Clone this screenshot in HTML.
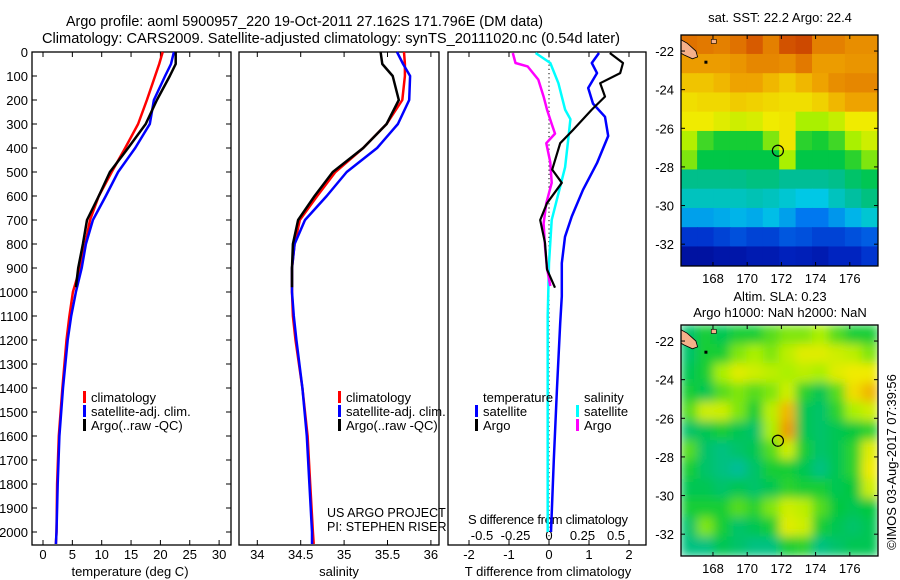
<!DOCTYPE html>
<html><head><meta charset="utf-8">
<style>
html,body{margin:0;padding:0;background:#fff;}
svg{display:block;font-family:"Liberation Sans",Arial,sans-serif;}
text{fill:#000;font-size:13px;}
</style></head>
<body>
<svg id="chart" width="900" height="580" viewBox="0 0 900 580" xmlns="http://www.w3.org/2000/svg">
<defs>
<filter id="blur" filterUnits="userSpaceOnUse" x="660" y="300" width="240" height="280"><feGaussianBlur stdDeviation="5"/></filter>
</defs>
<text x="66" y="26" textLength="477" lengthAdjust="spacingAndGlyphs" style="font-size:14.5px">Argo profile: aoml 5900957_220 19-Oct-2011 27.162S 171.796E (DM data)</text>
<text x="42" y="43" textLength="578" lengthAdjust="spacingAndGlyphs" style="font-size:14.5px">Climatology: CARS2009. Satellite-adjusted climatology: synTS_20111020.nc (0.54d later)</text>
<g id="plots"></g>
</svg>
<script>
// ---- profile data ----
const depthT = [0,50,100,200,300,400,500,600,700,800,900,1000,1100,1200,1400,1600,1800,2000,2050];
const climT  = [20.4,19.8,19.1,17.7,16.2,14.0,11.7,9.5,8.0,7.2,6.3,5.1,4.5,4.0,3.3,2.7,2.4,2.3,2.2];
const satT   = [22.3,21.8,20.8,18.9,18.2,15.7,12.8,10.7,8.5,7.3,6.6,5.6,4.8,4.2,3.4,2.8,2.5,2.3,2.2];
const depthArgo = [0,50,100,200,300,400,500,600,700,800,900,980];
const argoT  = [22.6,22.6,21.6,19.4,17.5,14.5,11.4,9.5,7.5,6.8,6.0,5.6];
const climS  = [35.69,35.70,35.70,35.67,35.49,35.22,34.90,34.69,34.49,34.43,34.40,34.40,34.41,34.44,34.52,34.58,34.61,34.64,34.65];
const satS   = [35.61,35.68,35.76,35.75,35.62,35.38,35.03,34.80,34.55,34.43,34.40,34.40,34.42,34.45,34.52,34.57,34.60,34.63,34.63];
const argoS  = [35.42,35.44,35.56,35.63,35.49,35.22,34.87,34.66,34.47,34.41,34.40,34.40];
// differences
const dDepthArgo = [4,46,88,130,186,240,325,380,490,545,630,700,795,906,982];
const dTargo = [1.52,1.85,1.78,1.28,1.4,1.07,0.6,0.28,0.08,0.32,-0.05,-0.22,-0.1,-0.05,0.15];
const dDepthSat = [4,46,88,150,215,270,350,463,574,685,770,880,1018,1130,1400,1700,2000];
const dTsat = [1.25,1.07,1.2,0.98,1.1,1.4,1.48,1.2,0.85,0.57,0.4,0.32,0.32,0.28,0.2,0.12,0.05];
const dSDepthArgo = [4,46,60,115,186,240,300,340,380,460,545,630,715,810,900,975];
const dSargo = [-0.27,-0.25,-0.16,-0.08,-0.04,-0.015,0.02,0.045,-0.02,0.01,0.02,-0.02,-0.04,-0.03,-0.015,0.01];
const dSDepthSat = [4,46,130,240,280,380,480,590,700,880,1100,1400,1700,2000];
const dSsat = [-0.1,0.01,0.07,0.12,0.16,0.14,0.12,0.07,0.02,0.0,-0.01,-0.01,-0.01,-0.01];
const depthTicks = [0,100,200,300,400,500,600,700,800,900,1000,1100,1200,1300,1400,1500,1600,1700,1800,1900,2000];
const tTicks = [0,5,10,15,20,25,30];
const sTicks = [34,34.5,35,35.5,36];
const sTickLabels = ["34","34.5","35","35.5","36"];
const dTTicks = [-2,-1,0,1,2];
const dSTicks = [-0.5,-0.25,0,0.25,0.5];
const dSTickLabels = ["-0.5","-0.25","0","0.25","0.5"];
// ---- map data (rows north->south, cols west->east), normalized colour index 0..1 ----
const sstGrid = [
[.88,.87,.86,.88,.91,.86,.92,.93,.86,.86,.84,.84],
[.82,.82,.82,.83,.85,.85,.84,.87,.82,.82,.83,.83],
[.76,.76,.78,.81,.81,.78,.75,.78,.81,.84,.85,.85],
[.72,.73,.73,.75,.74,.73,.72,.72,.74,.78,.81,.81],
[.7,.7,.68,.66,.67,.7,.71,.62,.62,.65,.7,.7],
[.63,.57,.55,.55,.55,.6,.71,.56,.55,.57,.62,.66],
[.6,.53,.53,.53,.53,.53,.62,.53,.53,.53,.56,.6],
[.47,.47,.47,.47,.48,.48,.46,.46,.46,.47,.5,.52],
[.42,.42,.42,.42,.43,.42,.4,.38,.38,.42,.45,.48],
[.34,.34,.35,.36,.35,.37,.34,.3,.3,.33,.36,.4],
[.2,.2,.22,.24,.22,.22,.25,.24,.22,.22,.24,.26],
[.08,.08,.1,.1,.12,.12,.15,.14,.12,.16,.16,.2]];
const slaGrid = [
[.5,.55,.52,.55,.55,.58,.6,.6,.62,.58,.55,.55],
[.5,.55,.55,.6,.62,.6,.64,.68,.68,.66,.64,.6],
[.52,.55,.62,.68,.66,.64,.62,.64,.62,.68,.7,.7],
[.55,.52,.58,.6,.58,.6,.66,.56,.52,.58,.72,.78],
[.58,.66,.66,.6,.55,.64,.78,.52,.5,.56,.62,.66],
[.5,.52,.55,.52,.5,.62,.82,.52,.5,.52,.54,.56],
[.58,.5,.48,.5,.52,.58,.66,.55,.5,.52,.56,.68],
[.55,.5,.48,.46,.5,.55,.55,.52,.48,.52,.56,.7],
[.52,.52,.5,.52,.5,.52,.56,.55,.55,.52,.54,.66],
[.55,.55,.55,.58,.56,.6,.66,.64,.58,.54,.52,.54],
[.5,.6,.55,.5,.52,.55,.68,.66,.55,.52,.5,.52],
[.48,.48,.52,.5,.48,.48,.55,.56,.48,.5,.52,.52]];
const lonTicks = [168,170,172,174,176];
const latTicks = [-22,-24,-26,-28,-30,-32];
const argoLon = 171.796, argoLat = -27.162;

const NS="http://www.w3.org/2000/svg";
const root=document.getElementById('plots');
function el(tag,attrs,parent){const e=document.createElementNS(NS,tag);for(const k in attrs)e.setAttribute(k,attrs[k]);(parent||root).appendChild(e);return e;}
function txt(s,x,y,anchor,parent){const t=el('text',{x:x,y:y,'text-anchor':anchor||'start'},parent);t.textContent=s;return t;}

const yTop=52, yBot=545;
const yD = d => 52 + d*0.24;
const xT = v => 43 + v*5.87;
const xS = v => 257.3 + (v-34)*86.8;
const xDT = v => 549 + v*40;
const xDS = v => 549 + v*134;

const panels=[[32,231,'temperature-panel'],[239,439,'salinity-panel'],[448,646,'difference-panel']];
panels.forEach(p=>{
  const r=el('rect',{x:p[0],y:yTop,width:p[1]-p[0],height:yBot-yTop,fill:'none',stroke:'#000','stroke-width':1.3});
  
  
});
depthTicks.forEach(d=>{
  el('line',{x1:32,x2:37,y1:yD(d),y2:yD(d),stroke:'#000'});
  el('line',{x1:226,x2:231,y1:yD(d),y2:yD(d),stroke:'#000'});
  const t=txt(String(d),28,yD(d)+5,'end');
  
  
});
function xTicks(ticks,labels,fx,ly){
  ticks.forEach((v,i)=>{
    const x=fx(v);
    el('line',{x1:x,x2:x,y1:yBot,y2:yBot-5,stroke:'#000'});
    el('line',{x1:x,x2:x,y1:yTop,y2:yTop+5,stroke:'#000'});
    const t=txt(labels[i],x,ly,'middle');
    
    
  });
}
xTicks(tTicks,tTicks.map(String),xT,559);
xTicks(sTicks,sTickLabels,xS,559);
xTicks(dTTicks,dTTicks.map(String),xDT,559);
dSTicks.forEach((v,i)=>{const t=txt(dSTickLabels[i],xDS(v),540,'middle');
  
  });
[['temperature (deg C)',130,'temperature-axis-title'],['salinity',339,'salinity-axis-title'],['T difference from climatology',548,'t-diff-axis-title']].forEach(a=>{
  const t=txt(a[0],a[1],576,'middle');
  
  
});
{const t=txt('S difference from climatology',468,524,'start');
t.setAttribute('textLength','160');

}

el('line',{x1:xDT(0),x2:xDT(0),y1:yTop,y2:yBot,stroke:'#000','stroke-dasharray':'1.2 3'});

function series(depths,vals,fx,color,w,name){
  const pts=depths.map((d,i)=>fx(vals[i]).toFixed(1)+','+yD(d).toFixed(1)).join(' ');
  const p=el('polyline',{points:pts,fill:'none',stroke:color,'stroke-width':w,'stroke-linejoin':'round'});
  
  
}
series(depthT,climT,xT,'#ff0000',2.5,'temperature-climatology-line');
series(depthT,satT,xT,'#0000ff',2.5,'temperature-satellite-line');
series(depthArgo,argoT,xT,'#000000',2.5,'temperature-argo-line');
series(depthT,climS,xS,'#ff0000',2.5,'salinity-climatology-line');
series(depthT,satS,xS,'#0000ff',2.5,'salinity-satellite-line');
series(depthArgo,argoS,xS,'#000000',2.5,'salinity-argo-line');
series(dSDepthSat,dSsat,xDS,'#00ffff',2.5,'s-diff-satellite-line');
series(dDepthSat,dTsat,xDT,'#0000ff',2.5,'t-diff-satellite-line');
series(dSDepthArgo,dSargo,xDS,'#ff00ff',2.5,'s-diff-argo-line');
series(dDepthArgo,dTargo,xDT,'#000000',2.2,'t-diff-argo-line');

function legItem(x,y,color,label){
  const r=el('rect',{x:x,y:y-11,width:3,height:12,fill:color});
  
  
  const t=txt(label,x+8,y);
  
  
}
[['#ff0000','climatology'],['#0000ff','satellite-adj. clim.'],['#000','Argo(..raw -QC)']].forEach((l,i)=>legItem(83,402+i*14,l[0],l[1]));
[['#ff0000','climatology'],['#0000ff','satellite-adj. clim.'],['#000','Argo(..raw -QC)']].forEach((l,i)=>legItem(338,402+i*14,l[0],l[1]));
{const t=txt('temperature',483,402);}
{const t=txt('salinity',584,402);}
legItem(475,416,'#0000ff','satellite');
legItem(475,430,'#000','Argo');
legItem(576,416,'#00ffff','satellite');
legItem(576,430,'#ff00ff','Argo');
{const t=txt('US ARGO PROJECT',327,517);t.setAttribute('style','font-size:12.5px');}
{const t=txt('PI: STEPHEN RISER',327,531);t.setAttribute('style','font-size:12.5px');}

// ---- maps ----
const stops=[[0,[0,0,130]],[0.18,[0,40,200]],[0.3,[0,120,240]],[0.38,[0,200,230]],[0.46,[0,190,150]],[0.54,[0,200,60]],[0.62,[170,240,0]],[0.7,[240,235,0]],[0.8,[240,170,0]],[0.9,[220,100,0]],[1,[170,10,0]]];
function cmap(v){
  for(let i=1;i<stops.length;i++){if(v<=stops[i][0]){const a=stops[i-1],b=stops[i];const f=(v-a[0])/(b[0]-a[0]);
    return 'rgb('+a[1].map((c,k)=>Math.round(c+(b[1][k]-c)*f)).join(',')+')';}}
  return 'rgb(170,10,0)';
}
const lon0=166.13, lon1=177.65, lat0=-21.17, lat1=-33.13;
function drawMap(top,grid,name,blur){
  const L=681,R=878,B=top+231;
  const mx=lon=>L+(lon-lon0)/(lon1-lon0)*(R-L);
  const my=lat=>top+(lat-lat0)/(lat1-lat0)*(B-top);
  const g=el('g',{});
  
  
  const clip=el('clipPath',{id:'clip'+top},g);
  el('rect',{x:L,y:top,width:R-L,height:B-top},clip);
  const inner=el('g',{'clip-path':'url(#clip'+top+')'},g);
  const cg=el('g',blur?{filter:'url(#blur)'}:{},inner);
  const nr=grid.length,nc=grid[0].length;
  const cw=(lon1-lon0)/nc, ch=(lat0-lat1)/nr;
  grid.forEach((row,r)=>row.forEach((v,c)=>{
    const x=mx(lon0+c*cw), y=my(lat0-r*ch);
    const cell=el('rect',{x:x-0.3,y:y-0.3,width:mx(lon0+(c+1)*cw)-x+0.8,height:my(lat0-(r+1)*ch)-y+0.8,fill:cmap(v)},cg);
    
    
  }));
  el('polygon',{points:[[166.1,-21.4],[166.5,-21.6],[167.0,-22.0],[167.1,-22.3],[166.8,-22.4],[166.3,-22.2],[166.1,-22.1]].map(p=>mx(p[0])+','+my(p[1])).join(' '),fill:'#f5b08a',stroke:'#000','stroke-width':0.8},inner);
  el('rect',{x:mx(167.5),y:my(-22.5),width:3,height:3,fill:'#000'},inner);
  el('rect',{x:mx(167.9),y:my(-21.4),width:5,height:4,fill:'#f5b08a',stroke:'#000','stroke-width':0.6},inner);
  el('rect',{x:L,y:top,width:R-L,height:B-top,fill:'none',stroke:'#000','stroke-width':1.3},g);
  lonTicks.forEach(v=>{const x=mx(v);
    el('line',{x1:x,x2:x,y1:B,y2:B-4,stroke:'#000'},g);
    el('line',{x1:x,x2:x,y1:top,y2:top+4,stroke:'#000'},g);
    const t=txt(String(v),x,B+17,'middle',g);
    
    });
  latTicks.forEach(v=>{const y=my(v);
    el('line',{x1:L,x2:L+4,y1:y,y2:y,stroke:'#000'},g);
    el('line',{x1:R,x2:R-4,y1:y,y2:y,stroke:'#000'},g);
    const t=txt(String(v),674,y+5,'end',g);
    
    });
  const c=el('circle',{cx:mx(argoLon),cy:my(argoLat),r:5.5,fill:'none',stroke:'#000','stroke-width':1.2},g);
  
  
}
drawMap(35,sstGrid,'sst-map',false);
drawMap(325,slaGrid,'sla-map',true);
{const t=txt('sat. SST: 22.2 Argo: 22.4',780,22,'middle');}
{const t=txt('Altim. SLA: 0.23',780,301,'middle');}
{const t=txt('Argo h1000: NaN h2000: NaN',780,317,'middle');}
{const t=txt('©IMOS 03-Aug-2017 07:39:56',0,0,'middle');t.setAttribute('transform','translate(896,462) rotate(-90)');}
</script>
</body></html>
